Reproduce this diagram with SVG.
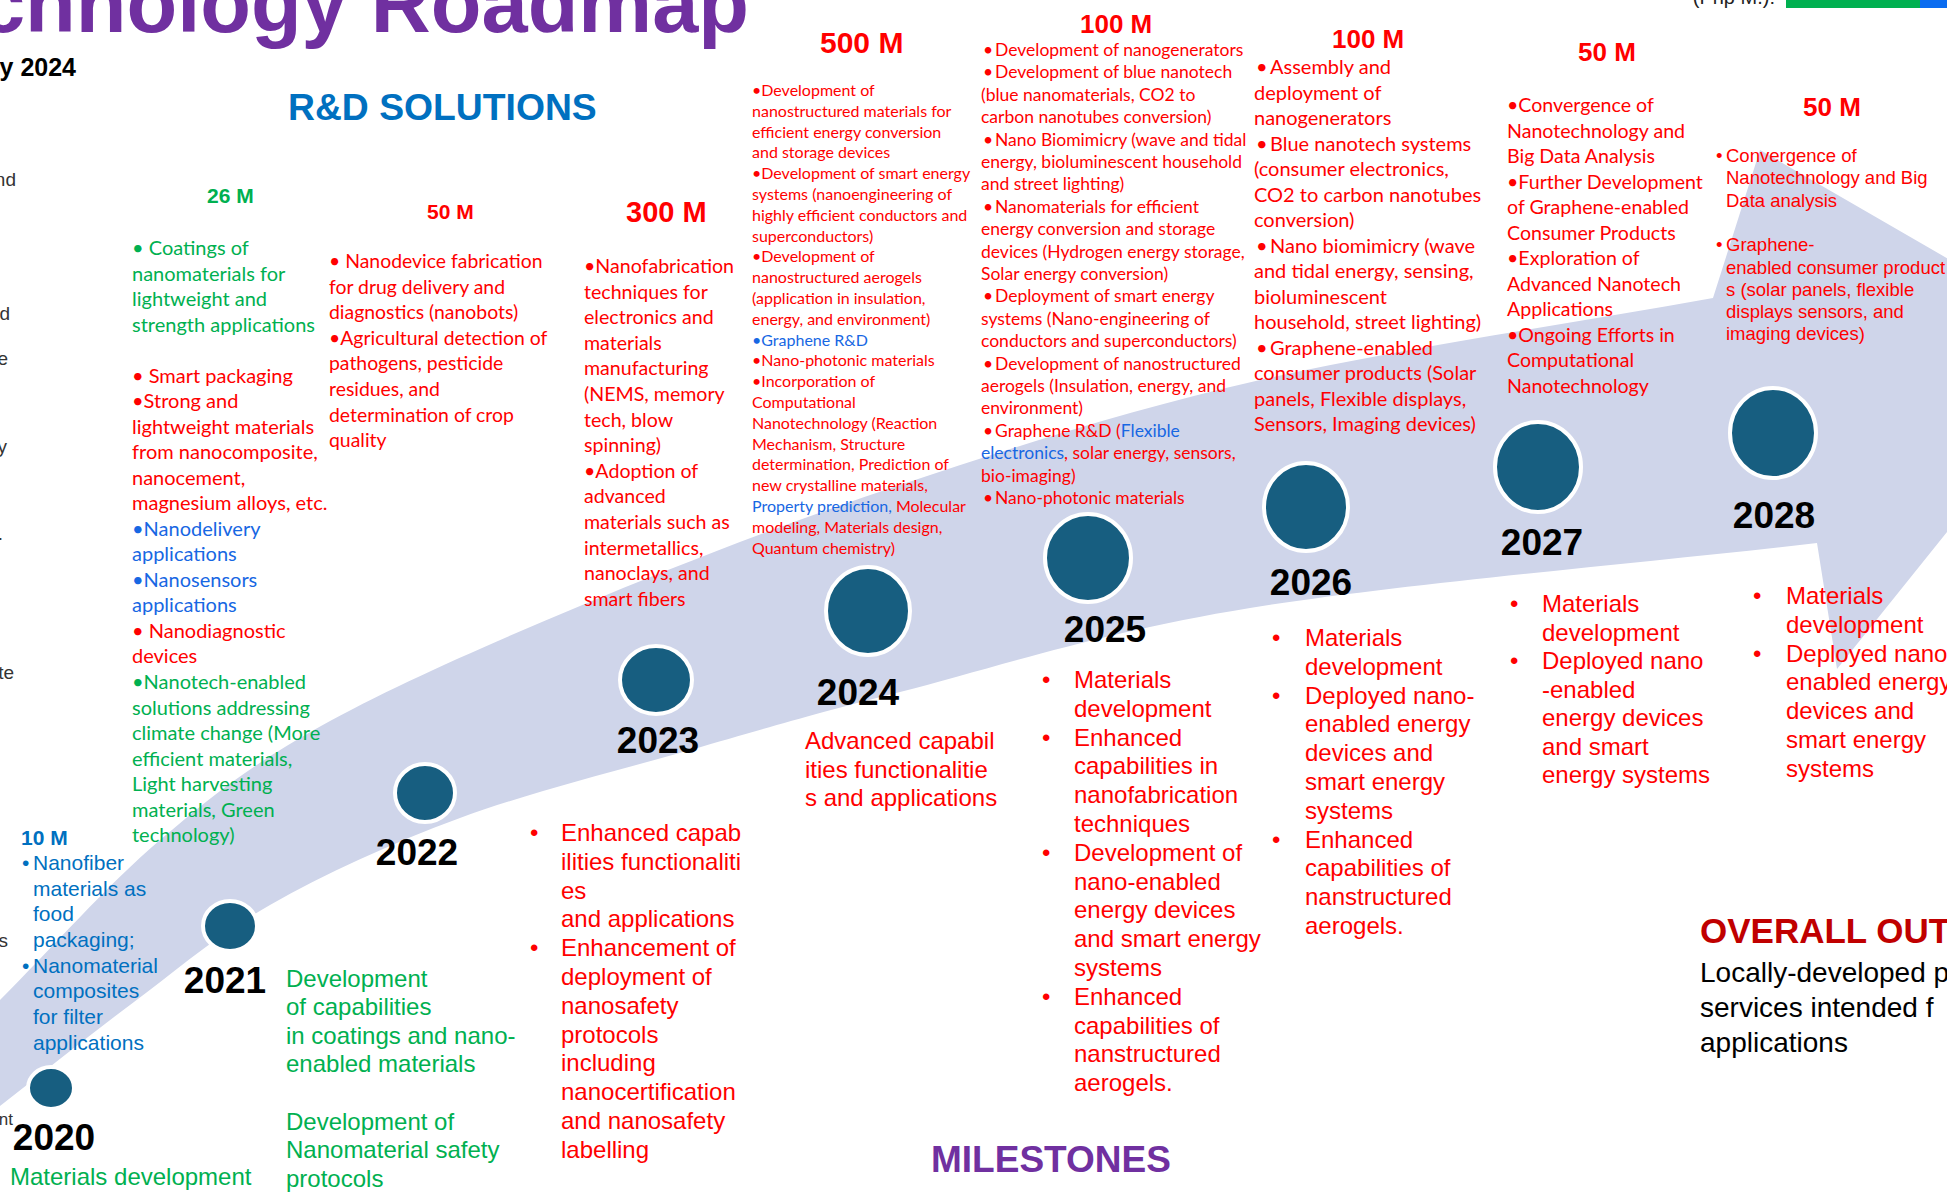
<svg xmlns="http://www.w3.org/2000/svg" width="1947" height="1196" viewBox="0 0 1947 1196">
<defs>
<style>
.ar{font-family:"Liberation Sans",Arial,sans-serif}
.ca{font-family:Lato,"Liberation Sans",sans-serif}
.bd{font-weight:bold}
.red{fill:#FF0000}
.grn{fill:#00B050}
.blu{fill:#0070C0}
.sky{fill:#1767E3}
.node{fill:#175E80;stroke:#FFFFFF;stroke-width:4}
.yr{font-family:"Liberation Sans",Arial,sans-serif;font-weight:bold;font-size:37px;fill:#000000;text-anchor:middle}
.ms{font-family:"Liberation Sans",Arial,sans-serif;font-size:24px}
.amt{font-family:"Liberation Sans",Arial,sans-serif;font-weight:bold}
.frag{font-family:"Liberation Sans",Arial,sans-serif;font-size:19px;fill:#333333;text-anchor:end}
</style>
</defs>
<rect width="1947" height="1196" fill="#FFFFFF"/>

<!-- curved timeline arrow -->
<g id="connectors">
<path id="timeline-arrow" fill="#CFD5EA" d="M0,1000 C53.3,946.7 106.5,885.7 160,840 C213.5,794.3 251,765 321,726 C391,687 483.5,646.2 580,606 C676.5,565.8 786.7,522.7 900,485 C1013.3,447.3 1124.5,411.2 1260,380 C1395.5,348.8 1562,325.3 1713,298 L1760,150 L2097,345 L1837,669 L1817,543 C1628,564.7 1402.8,583.2 1250,608 C1097.2,632.8 993.3,668.3 900,692 C806.7,715.7 763.3,729 690,750 C616.7,771 530,792.2 460,818 C390,843.8 325,873.8 270,905 C215,936.2 175,971.5 130,1005 C85,1038.5 43.3,1072.3 0,1106 Z"/>
</g>

<!-- headings -->
<g id="title">
<text class="ar bd" x="749" y="32" font-size="83" fill="#7030A0" text-anchor="end">chnology Roadmap</text>
<text class="ar bd" x="76" y="76" font-size="25" fill="#000000" text-anchor="end">y 2024</text>
<text class="ar bd" x="288" y="120" font-size="37.3" fill="#0070C0">R&amp;D SOLUTIONS</text>
<text class="ar bd" x="931" y="1172" font-size="37" fill="#7030A0">MILESTONES</text>
</g>

<!-- funding legend -->
<g id="legend">
<text class="ar" x="1775" y="4" font-size="20" fill="#222222" text-anchor="end">(Php M.):</text>
<rect x="1786" y="0" width="134" height="8" fill="#00B050"/>
<rect x="1920" y="0" width="27" height="8" fill="#0A6CF0"/>
</g>

<!-- left column edge -->
<g id="left-column-edge" class="frag">
<text x="16" y="186">nd</text>
<text x="10" y="320">d</text>
<text x="8" y="365">e</text>
<text x="7" y="453">y</text>
<text x="3" y="540">.</text>
<text x="14" y="679">te</text>
<text x="8" y="947">s</text>
<text x="13" y="1125" font-size="17">nt</text>
</g>

<!-- 2020 -->
<g id="node-2020">
<ellipse class="node" cx="51" cy="1088" rx="23" ry="21"/>
<text class="yr" x="54" y="1150">2020</text>
<text class="amt blu" x="21" y="845" font-size="21">10 M</text>
<text class="ar blu" font-size="21">
<tspan x="22" y="870">•</tspan><tspan x="33">Nanofiber</tspan>
<tspan x="33" y="896">materials as</tspan>
<tspan x="33" y="921">food</tspan>
<tspan x="33" y="947">packaging;</tspan>
<tspan x="22" y="973">•</tspan><tspan x="33">Nanomaterial</tspan>
<tspan x="33" y="998">composites</tspan>
<tspan x="33" y="1024">for filter</tspan>
<tspan x="33" y="1050">applications</tspan>
</text>
<text class="ms grn" x="10" y="1185">Materials development</text>
</g>

<!-- 2021 -->
<g id="node-2021">
<ellipse class="node" cx="230" cy="926" rx="27" ry="25"/>
<text class="yr" x="225" y="993">2021</text>
<text class="amt grn" x="207" y="203" font-size="21">26 M</text>
<text class="ca" font-size="20">
<tspan class="grn" x="132" y="255">• Coatings of</tspan>
<tspan class="grn" x="132" y="280.5">nanomaterials for</tspan>
<tspan class="grn" x="132" y="306">lightweight and</tspan>
<tspan class="grn" x="132" y="331.5">strength applications</tspan>
<tspan class="red" x="132" y="382.5">• Smart packaging</tspan>
<tspan class="red" x="132" y="408">•Strong and</tspan>
<tspan class="red" x="132" y="433.5">lightweight materials</tspan>
<tspan class="red" x="132" y="459">from nanocomposite,</tspan>
<tspan class="red" x="132" y="484.5">nanocement,</tspan>
<tspan class="red" x="132" y="510">magnesium alloys, etc.</tspan>
<tspan class="sky" x="132" y="535.5">•Nanodelivery</tspan>
<tspan class="sky" x="132" y="561">applications</tspan>
<tspan class="sky" x="132" y="586.5">•Nanosensors</tspan>
<tspan class="sky" x="132" y="612">applications</tspan>
<tspan class="red" x="132" y="637.5">• Nanodiagnostic</tspan>
<tspan class="red" x="132" y="663">devices</tspan>
<tspan class="grn" x="132" y="689">•Nanotech-enabled</tspan>
<tspan class="grn" x="132" y="714.5">solutions addressing</tspan>
<tspan class="grn" x="132" y="740">climate change (More</tspan>
<tspan class="grn" x="132" y="765.5">efficient materials,</tspan>
<tspan class="grn" x="132" y="791">Light harvesting</tspan>
<tspan class="grn" x="132" y="816.5">materials, Green</tspan>
<tspan class="grn" x="132" y="842">technology)</tspan>
</text>
<text class="ms grn">
<tspan x="286" y="987">Development</tspan>
<tspan x="286" y="1015">of capabilities</tspan>
<tspan x="286" y="1044">in coatings and nano-</tspan>
<tspan x="286" y="1072">enabled materials</tspan>
<tspan x="286" y="1130">Development of</tspan>
<tspan x="286" y="1158">Nanomaterial safety</tspan>
<tspan x="286" y="1187">protocols</tspan>
</text>
</g>

<!-- 2022 -->
<g id="node-2022">
<ellipse class="node" cx="425" cy="793" rx="30" ry="29"/>
<text class="yr" x="417" y="865">2022</text>
<text class="amt red" x="427" y="219" font-size="21">50 M</text>
<text class="ca red" font-size="19.4">
<tspan x="329" y="268">• Nanodevice fabrication</tspan>
<tspan x="329" y="293.6">for drug delivery and</tspan>
<tspan x="329" y="319.2">diagnostics (nanobots)</tspan>
<tspan x="329" y="344.8">•Agricultural detection of</tspan>
<tspan x="329" y="370.4">pathogens, pesticide</tspan>
<tspan x="329" y="396">residues, and</tspan>
<tspan x="329" y="421.6">determination of crop</tspan>
<tspan x="329" y="447.2">quality</tspan>
</text>
</g>

<!-- 2023 -->
<g id="node-2023">
<ellipse class="node" cx="656" cy="680" rx="36" ry="34"/>
<text class="yr" x="658" y="753">2023</text>
<text class="amt red" x="626" y="222" font-size="29">300 M</text>
<text class="ca red" font-size="19.6">
<tspan x="584" y="273">•Nanofabrication</tspan>
<tspan x="584" y="298.6">techniques for</tspan>
<tspan x="584" y="324.2">electronics and</tspan>
<tspan x="584" y="349.8">materials</tspan>
<tspan x="584" y="375.4">manufacturing</tspan>
<tspan x="584" y="401">(NEMS, memory</tspan>
<tspan x="584" y="426.6">tech, blow</tspan>
<tspan x="584" y="452.2">spinning)</tspan>
<tspan x="584" y="477.8">•Adoption of</tspan>
<tspan x="584" y="503.4">advanced</tspan>
<tspan x="584" y="529">materials such as</tspan>
<tspan x="584" y="554.6">intermetallics,</tspan>
<tspan x="584" y="580.2">nanoclays, and</tspan>
<tspan x="584" y="605.8">smart fibers</tspan>
</text>
<text class="ms red">
<tspan x="530" y="841">•</tspan><tspan x="561">Enhanced capab</tspan>
<tspan x="561" y="870">ilities functionaliti</tspan>
<tspan x="561" y="899">es</tspan>
<tspan x="561" y="927">and applications</tspan>
<tspan x="530" y="956">•</tspan><tspan x="561">Enhancement of</tspan>
<tspan x="561" y="985">deployment of</tspan>
<tspan x="561" y="1014">nanosafety</tspan>
<tspan x="561" y="1043">protocols</tspan>
<tspan x="561" y="1071">including</tspan>
<tspan x="561" y="1100">nanocertification</tspan>
<tspan x="561" y="1129">and nanosafety</tspan>
<tspan x="561" y="1158">labelling</tspan>
</text>
</g>

<!-- 2024 -->
<g id="node-2024">
<ellipse class="node" cx="868" cy="611" rx="42" ry="44"/>
<text class="yr" x="858" y="705">2024</text>
<text class="amt red" x="820" y="53" font-size="30">500 M</text>
<text class="ca red" font-size="16">
<tspan x="752" y="96">•Development of</tspan>
<tspan x="752" y="116.8">nanostructured materials for</tspan>
<tspan x="752" y="137.6">efficient energy conversion</tspan>
<tspan x="752" y="158.4">and storage devices</tspan>
<tspan x="752" y="179.2">•Development of smart energy</tspan>
<tspan x="752" y="200">systems (nanoengineering of</tspan>
<tspan x="752" y="220.8">highly efficient conductors and</tspan>
<tspan x="752" y="241.6">superconductors)</tspan>
<tspan x="752" y="262.4">•Development of</tspan>
<tspan x="752" y="283.2">nanostructured aerogels</tspan>
<tspan x="752" y="304">(application in insulation,</tspan>
<tspan x="752" y="324.8">energy, and environment)</tspan>
<tspan class="sky" x="752" y="345.6">•Graphene R&amp;D</tspan>
<tspan x="752" y="366.4">•Nano-photonic materials</tspan>
<tspan x="752" y="387.2">•Incorporation of</tspan>
<tspan x="752" y="408">Computational</tspan>
<tspan x="752" y="428.8">Nanotechnology (Reaction</tspan>
<tspan x="752" y="449.6">Mechanism, Structure</tspan>
<tspan x="752" y="470.4">determination, Prediction of</tspan>
<tspan x="752" y="491.2">new crystalline materials,</tspan>
<tspan class="sky" x="752" y="512">Property prediction, </tspan><tspan>Molecular</tspan>
<tspan x="752" y="532.8">modeling, Materials design,</tspan>
<tspan x="752" y="553.6">Quantum chemistry)</tspan>
</text>
<text class="ms red">
<tspan x="805" y="749">Advanced capabil</tspan>
<tspan x="805" y="778">ities functionalitie</tspan>
<tspan x="805" y="806">s and applications</tspan>
</text>
</g>

<!-- 2025 -->
<g id="node-2025">
<ellipse class="node" cx="1088" cy="558" rx="43" ry="44"/>
<text class="yr" x="1105" y="642">2025</text>
<text class="amt red" x="1080" y="33" font-size="26">100 M</text>
<text class="ca red" font-size="17.5">
<tspan x="983" y="56">•</tspan><tspan x="995">Development of nanogenerators</tspan>
<tspan x="983" y="78.4">•</tspan><tspan x="995">Development of blue nanotech</tspan>
<tspan x="981" y="100.8">(blue nanomaterials, CO2 to</tspan>
<tspan x="981" y="123.2">carbon nanotubes conversion)</tspan>
<tspan x="983" y="145.6">•</tspan><tspan x="995">Nano Biomimicry (wave and tidal</tspan>
<tspan x="981" y="168">energy, bioluminescent household</tspan>
<tspan x="981" y="190.4">and street lighting)</tspan>
<tspan x="983" y="212.8">•</tspan><tspan x="995">Nanomaterials for efficient</tspan>
<tspan x="981" y="235.2">energy conversion and storage</tspan>
<tspan x="981" y="257.6">devices (Hydrogen energy storage,</tspan>
<tspan x="981" y="280">Solar energy conversion)</tspan>
<tspan x="983" y="302.4">•</tspan><tspan x="995">Deployment of smart energy</tspan>
<tspan x="981" y="324.8">systems (Nano-engineering of</tspan>
<tspan x="981" y="347.2">conductors and superconductors)</tspan>
<tspan x="983" y="369.6">•</tspan><tspan x="995">Development of nanostructured</tspan>
<tspan x="981" y="392">aerogels (Insulation, energy, and</tspan>
<tspan x="981" y="414.4">environment)</tspan>
<tspan x="983" y="436.8">•</tspan><tspan x="995">Graphene R&amp;D (</tspan><tspan class="sky">Flexible</tspan>
<tspan class="sky" x="981" y="459.2">electronics</tspan><tspan>, solar energy, sensors,</tspan>
<tspan x="981" y="481.6">bio-imaging)</tspan>
<tspan x="983" y="504">•</tspan><tspan x="995">Nano-photonic materials</tspan>
</text>
<text class="ms red">
<tspan x="1042" y="688">•</tspan><tspan x="1074">Materials</tspan>
<tspan x="1074" y="716.8">development</tspan>
<tspan x="1042" y="745.6">•</tspan><tspan x="1074">Enhanced</tspan>
<tspan x="1074" y="774.4">capabilities in</tspan>
<tspan x="1074" y="803.2">nanofabrication</tspan>
<tspan x="1074" y="832">techniques</tspan>
<tspan x="1042" y="860.8">•</tspan><tspan x="1074">Development of</tspan>
<tspan x="1074" y="889.6">nano-enabled</tspan>
<tspan x="1074" y="918.4">energy devices</tspan>
<tspan x="1074" y="947.2">and smart energy</tspan>
<tspan x="1074" y="976">systems</tspan>
<tspan x="1042" y="1004.8">•</tspan><tspan x="1074">Enhanced</tspan>
<tspan x="1074" y="1033.6">capabilities of</tspan>
<tspan x="1074" y="1062.4">nanstructured</tspan>
<tspan x="1074" y="1091.2">aerogels.</tspan>
</text>
</g>

<!-- 2026 -->
<g id="node-2026">
<ellipse class="node" cx="1306" cy="507" rx="42" ry="44"/>
<text class="yr" x="1311" y="595">2026</text>
<text class="amt red" x="1332" y="48" font-size="26">100 M</text>
<text class="ca red" font-size="20">
<tspan x="1256" y="74">•</tspan><tspan x="1270">Assembly and</tspan>
<tspan x="1254" y="99.5">deployment of</tspan>
<tspan x="1254" y="125">nanogenerators</tspan>
<tspan x="1256" y="150.5">•</tspan><tspan x="1270">Blue nanotech systems</tspan>
<tspan x="1254" y="176">(consumer electronics,</tspan>
<tspan x="1254" y="201.5">CO2 to carbon nanotubes</tspan>
<tspan x="1254" y="227">conversion)</tspan>
<tspan x="1256" y="252.5">•</tspan><tspan x="1270">Nano biomimicry (wave</tspan>
<tspan x="1254" y="278">and tidal energy, sensing,</tspan>
<tspan x="1254" y="303.5">bioluminescent</tspan>
<tspan x="1254" y="329">household, street lighting)</tspan>
<tspan x="1256" y="354.5">•</tspan><tspan x="1270">Graphene-enabled</tspan>
<tspan x="1254" y="380">consumer products (Solar</tspan>
<tspan x="1254" y="405.5">panels, Flexible displays,</tspan>
<tspan x="1254" y="431">Sensors, Imaging devices)</tspan>
</text>
<text class="ms red">
<tspan x="1272" y="646">•</tspan><tspan x="1305">Materials</tspan>
<tspan x="1305" y="674.8">development</tspan>
<tspan x="1272" y="703.6">•</tspan><tspan x="1305">Deployed nano-</tspan>
<tspan x="1305" y="732.4">enabled energy</tspan>
<tspan x="1305" y="761.2">devices and</tspan>
<tspan x="1305" y="790">smart energy</tspan>
<tspan x="1305" y="818.8">systems</tspan>
<tspan x="1272" y="847.6">•</tspan><tspan x="1305">Enhanced</tspan>
<tspan x="1305" y="876.4">capabilities of</tspan>
<tspan x="1305" y="905.2">nanstructured</tspan>
<tspan x="1305" y="934">aerogels.</tspan>
</text>
</g>

<!-- 2027 -->
<g id="node-2027">
<ellipse class="node" cx="1538" cy="467" rx="43" ry="45"/>
<text class="yr" x="1542" y="555">2027</text>
<text class="amt red" x="1578" y="61" font-size="26">50 M</text>
<text class="ca red" font-size="19.6">
<tspan x="1507" y="112">•Convergence of</tspan>
<tspan x="1507" y="137.5">Nanotechnology and</tspan>
<tspan x="1507" y="163">Big Data Analysis</tspan>
<tspan x="1507" y="188.5">•Further Development</tspan>
<tspan x="1507" y="214">of Graphene-enabled</tspan>
<tspan x="1507" y="239.5">Consumer Products</tspan>
<tspan x="1507" y="265">•Exploration of</tspan>
<tspan x="1507" y="290.5">Advanced Nanotech</tspan>
<tspan x="1507" y="316">Applications</tspan>
<tspan x="1507" y="341.5">•Ongoing Efforts in</tspan>
<tspan x="1507" y="367">Computational</tspan>
<tspan x="1507" y="392.5">Nanotechnology</tspan>
</text>
<text class="ms red">
<tspan x="1510" y="612">•</tspan><tspan x="1542">Materials</tspan>
<tspan x="1542" y="640.5">development</tspan>
<tspan x="1510" y="669">•</tspan><tspan x="1542">Deployed nano</tspan>
<tspan x="1542" y="697.5">-enabled</tspan>
<tspan x="1542" y="726">energy devices</tspan>
<tspan x="1542" y="754.5">and smart</tspan>
<tspan x="1542" y="783">energy systems</tspan>
</text>
</g>

<!-- 2028 -->
<g id="node-2028">
<ellipse class="node" cx="1773" cy="433" rx="43" ry="45"/>
<text class="yr" x="1774" y="528">2028</text>
<text class="amt red" x="1803" y="116" font-size="26">50 M</text>
<text class="ar red" font-size="18.5">
<tspan x="1716" y="162">•</tspan><tspan x="1726">Convergence of</tspan>
<tspan x="1726" y="184.3">Nanotechnology and Big</tspan>
<tspan x="1726" y="206.6">Data analysis</tspan>
<tspan x="1716" y="251.2">•</tspan><tspan x="1726">Graphene-</tspan>
<tspan x="1726" y="273.5">enabled consumer product</tspan>
<tspan x="1726" y="295.8">s (solar panels, flexible</tspan>
<tspan x="1726" y="318.1">displays sensors, and</tspan>
<tspan x="1726" y="340.4">imaging devices)</tspan>
</text>
<text class="ms red">
<tspan x="1753" y="604">•</tspan><tspan x="1786">Materials</tspan>
<tspan x="1786" y="632.8">development</tspan>
<tspan x="1753" y="661.6">•</tspan><tspan x="1786">Deployed nano</tspan>
<tspan x="1786" y="690.4">enabled energy</tspan>
<tspan x="1786" y="719.2">devices and</tspan>
<tspan x="1786" y="748">smart energy</tspan>
<tspan x="1786" y="776.8">systems</tspan>
</text>
</g>

<!-- overall outcome -->
<g id="overall-outcome">
<text class="ar bd" x="1700" y="943" font-size="35" fill="#C00000">OVERALL OUT</text>
<text class="ar" font-size="28" fill="#000000">
<tspan x="1700" y="982">Locally-developed p</tspan>
<tspan x="1700" y="1017">services intended f</tspan>
<tspan x="1700" y="1052">applications</tspan>
</text>
</g>
</svg>
